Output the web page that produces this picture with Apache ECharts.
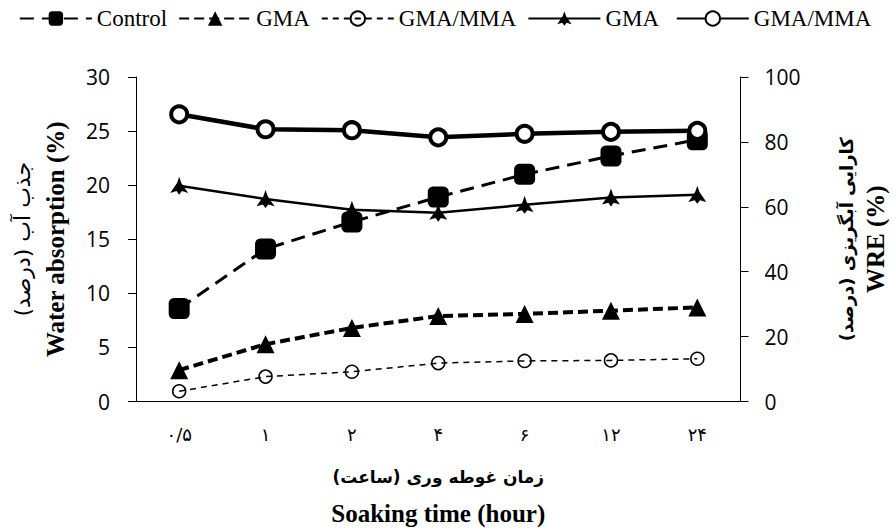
<!DOCTYPE html>
<html>
<head>
<meta charset="utf-8">
<script src="https://cdn.jsdelivr.net/npm/echarts@6/dist/echarts.min.js"></script>
<style>
  html, body { margin: 0; padding: 0; background: #fff; }
  #chart { width: 896px; height: 531px; }
</style>
</head>
<body>
<div id="chart"></div>
<script>
const hours = ['۰/۵', '۱', '۲', '۴', '۶', '۱۲', '۲۴']

// water absorption (%), left axis
const control = [8.6, 14.1, 16.6, 18.9, 21.0, 22.7, 24.2]
const gmaAbs = [2.9, 5.3, 6.8, 7.9, 8.1, 8.4, 8.7]
const gmaMmaAbs = [0.95, 2.3, 2.75, 3.55, 3.75, 3.8, 3.95]

// WRE (%), right axis
const gmaWre = [66.5, 62.4, 59.1, 58.2, 60.6, 62.9, 63.7]
const gmaMmaWre = [88.5, 83.9, 83.6, 81.4, 82.5, 83.1, 83.4]

const legendNames = ['Control', 'GMA', 'GMA/MMA', 'GMA ', 'GMA/MMA ']

// no quotes: the svg renderer puts these into a style attribute
const serif = 'Liberation Serif'
const persian = 'DejaVu Sans'
const tickFont = 'Open Sans'

const starPath = 'path://M5,0 L6.2,3.5 L10,9 L6.5,8 L5,10 L3.5,8 L0,9 L3.8,3.5 Z'

const chart = echarts.init(document.getElementById('chart'), null, { renderer: 'svg' })

chart.setOption({
  animation: false,
  grid: { left: 136, right: 148, top: 77, bottom: 129 },
  legend: {
    top: 2,
    left: 'center',
    itemWidth: 72,
    itemHeight: 18,
    itemGap: 11,
    textStyle: { fontFamily: serif, fontSize: 23, color: '#000' },
    data: legendNames
  },
  xAxis: {
    type: 'category',
    data: hours,
    axisLine: { lineStyle: { color: '#000', width: 1 } },
    axisTick: { show: false },
    axisLabel: { fontFamily: persian, fontSize: 18, color: '#000', margin: 24 },
    name: '{fa|زمان غوطه وری (ساعت)}\n{en|Soaking time (hour)}',
    nameLocation: 'middle',
    nameGap: 54,
    nameTextStyle: {
      rich: {
        fa: { fontFamily: persian, fontSize: 17, fontWeight: 'bold', color: '#000', lineHeight: 42 },
        en: { fontFamily: serif, fontSize: 25, fontWeight: 'bold', color: '#000', lineHeight: 32 }
      }
    }
  },
  yAxis: [
    {
      type: 'value',
      min: 0,
      max: 30,
      interval: 5,
      splitLine: { show: false },
      axisLine: { show: true, lineStyle: { color: '#000', width: 1 } },
      axisTick: { show: true, length: 8, lineStyle: { color: '#000' } },
      axisLabel: { fontFamily: tickFont, fontSize: 21, color: '#000', margin: 26 },
      name: '{fa|جذب آب (درصد)}\n{en|Water absorption (%)}',
      nameLocation: 'middle',
      nameRotate: 90,
      nameGap: 66,
      nameTextStyle: {
        rich: {
          fa: { fontFamily: persian, fontSize: 22, color: '#000', lineHeight: 36 },
          en: { fontFamily: serif, fontSize: 25, fontWeight: 'bold', color: '#000', lineHeight: 30 }
        }
      }
    },
    {
      type: 'value',
      min: 0,
      max: 100,
      interval: 20,
      splitLine: { show: false },
      axisLine: { show: true, lineStyle: { color: '#000', width: 1 } },
      axisTick: { show: true, length: 8, lineStyle: { color: '#000' } },
      axisLabel: { fontFamily: tickFont, fontSize: 21, color: '#000', margin: 24 },
      name: '{fa|کارایی آبگریزی (درصد)}\n{en|WRE (%)}',
      nameLocation: 'middle',
      nameRotate: 90,
      nameGap: 92,
      nameTextStyle: {
        rich: {
          fa: { fontFamily: persian, fontSize: 18, fontWeight: 'bold', color: '#000', lineHeight: 28 },
          en: { fontFamily: serif, fontSize: 25, fontWeight: 'bold', color: '#000', lineHeight: 30 }
        }
      }
    }
  ],
  series: [
    {
      name: 'Control',
      type: 'line',
      yAxisIndex: 0,
      data: control,
      z: 4,
      symbol: 'roundRect',
      symbolSize: 21,
      itemStyle: { color: '#000' },
      lineStyle: { color: '#000', width: 3, type: [14, 8] }
    },
    {
      name: 'GMA',
      type: 'line',
      yAxisIndex: 0,
      data: gmaAbs,
      z: 3,
      symbol: 'triangle',
      symbolSize: 18,
      itemStyle: { color: '#000' },
      lineStyle: { color: '#000', width: 4, type: [10, 5] }
    },
    {
      name: 'GMA/MMA',
      type: 'line',
      yAxisIndex: 0,
      data: gmaMmaAbs,
      z: 3,
      symbol: 'circle',
      symbolSize: 13,
      itemStyle: { color: 'rgba(255,255,255,0)', borderColor: '#000', borderWidth: 1.5 },
      lineStyle: { color: '#000', width: 1.5, type: [6, 5] }
    },
    {
      name: 'GMA ',
      type: 'line',
      yAxisIndex: 1,
      data: gmaWre,
      z: 2,
      symbol: starPath,
      symbolSize: 18,
      itemStyle: { color: '#000' },
      lineStyle: { color: '#000', width: 2.5 }
    },
    {
      name: 'GMA/MMA ',
      type: 'line',
      yAxisIndex: 1,
      data: gmaMmaWre,
      z: 5,
      symbol: 'circle',
      symbolSize: 16,
      itemStyle: { color: '#fff', borderColor: '#000', borderWidth: 4 },
      lineStyle: { color: '#000', width: 4.5 }
    }
  ]
})
</script>
</body>
</html>
